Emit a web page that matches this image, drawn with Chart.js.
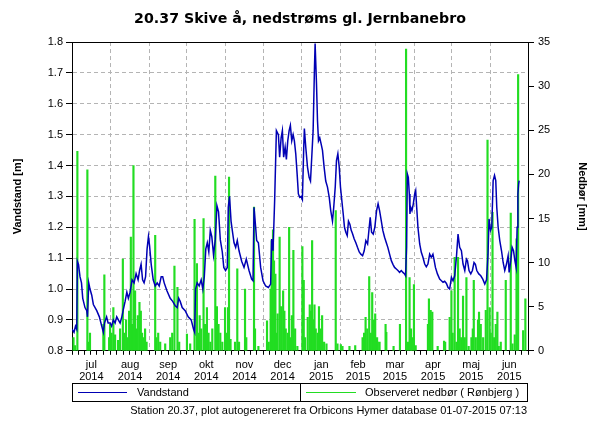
<!DOCTYPE html>
<html>
<head>
<meta charset="utf-8">
<script src="https://cdn.jsdelivr.net/npm/chart.js@4.4.1/dist/chart.umd.min.js"></script>
<style>
  html, body { margin: 0; padding: 0; background: #fff; }
  #wrap { width: 600px; height: 425px; }
</style>
</head>
<body>
<div id="wrap"><canvas id="myChart"></canvas></div>
<script>
// days counted from 1 jul 2014
var monthStarts = [0, 31, 62, 92, 123, 153, 184, 215, 243, 274, 304, 335, 365];
var monthNames = ['jul', 'aug', 'sep', 'okt', 'nov', 'dec', 'jan', 'feb', 'mar', 'apr', 'maj', 'jun'];
var monthYears = ['2014', '2014', '2014', '2014', '2014', '2014', '2015', '2015', '2015', '2015', '2015', '2015'];

// Vandstand [m]
var levelDays = [0, 1.6, 2.8, 3.8, 4.3, 5.2, 6.4, 7.6, 8.6, 10.4, 11.8, 12.4, 13.4, 14.4, 15.8, 17.1, 19.8, 21.9, 23.8, 25.1,
  26, 27.7, 28.9, 30.5, 31.7, 33.1, 34.5, 35.8, 37.1, 38.5, 39.9, 40.9, 42.5, 43.9, 45.1, 46.5, 48.1, 49.7, 51.3, 52.9,
  54.1, 55.3, 56.5, 57.7, 58.9, 60.1, 61.2, 62.1, 63.4, 65, 66.6, 68.2, 69.8, 71.4, 72.6, 73.8, 75.9, 78.6, 80.6, 82.6,
  84.2, 85.4, 86.6, 88.2, 90.6, 93, 95.4, 97.3, 98.2, 98.9, 100.2, 101.8, 103.4, 104.7, 105.9, 107.1, 108.3, 109.5, 110.7, 111.9,
  113.3, 114.7, 116, 117.3, 118.7, 120.3, 121.5, 122.9, 124.3, 125.1, 126.1, 127.3, 128.3, 129.7, 131, 132.3, 133.7, 135.8, 137.7, 139.5,
  141.7, 143.8, 144.9, 145.7, 147, 147.8, 149.2, 151, 152.9, 155, 157.2, 159, 159.8, 160.9, 162.2, 163.6, 165.2, 166.2, 167.4, 168.4,
  169.4, 170.6, 171.6, 172.7, 173.8, 174.8, 175.9, 177, 178, 179.1, 180.2, 181.2, 182.3, 183.4, 184.4, 185.5, 186, 187.1, 188.5, 189.8,
  190.9, 191.9, 193, 194.1, 194.6, 195.7, 196.5, 197.3, 198.3, 199.4, 200.5, 201.8, 203.1, 204.5, 205.9, 207.1, 208.5, 209.5, 210.7, 211.7,
  212.8, 213.9, 214.9, 216, 217.1, 218.1, 219.2, 220.3, 221.3, 222.4, 223.5, 224.5, 225.9, 227.2, 228.5, 229.9, 231.2, 232.6, 233.9, 235.2,
  236.6, 237.9, 238.7, 239.8, 241.1, 242.4, 243.8, 245, 246.2, 247.6, 248.8, 250.2, 251.6, 252.8, 254.2, 255.6, 256.9, 258.2, 259.6, 260.9,
  262.2, 263.6, 264.9, 266.2, 267, 267.8, 268.4, 269.2, 270, 270.5, 271.1, 272.1, 273.2, 274.3, 275.1, 275.9, 276.9, 278.3, 279.6, 280.9,
  282.3, 283.6, 284.9, 286.3, 287.6, 288.9, 289.7, 290.9, 292.5, 294.3, 295.7, 297, 298.3, 299.7, 301, 302.3, 303.7, 305, 306.3, 307.7,
  309, 310.3, 311.7, 313, 314.4, 315.7, 316.5, 317.8, 319.2, 320.5, 321.8, 322.9, 324, 325.6, 327.2, 328.8, 330.4, 331.8, 333, 333.8,
  335, 336, 337.1, 338.2, 339.2, 340, 341.1, 342.4, 343.8, 345.1, 346.4, 347.8, 349.1, 349.9, 351.2, 352.3, 353.4, 354.5, 355.5, 356.3,
  356.9, 357.5, 357.9];
var levelValues = [0.87, 0.86, 0.88, 0.87, 1.09, 1.08, 1.04, 1.02, 0.97, 0.94, 0.93, 0.91, 1.02, 1.00, 0.98, 0.95, 0.93, 0.91, 0.88, 0.86,
  0.89, 0.91, 0.89, 0.89, 0.88, 0.90, 0.89, 0.91, 0.90, 0.89, 0.91, 0.93, 0.96, 0.99, 0.97, 0.99, 1.03, 1.02, 1.05, 1.03,
  1.06, 1.08, 1.03, 1.02, 1.04, 1.13, 1.17, 1.14, 1.08, 1.03, 1.01, 1.02, 1.01, 1.04, 1.04, 1.02, 0.995, 0.97, 0.96, 0.946,
  0.94, 0.97, 0.96, 0.94, 0.93, 0.91, 0.90, 0.87, 0.86, 1.00, 1.02, 1.01, 1.03, 1.00, 1.04, 1.13, 1.15, 1.12, 1.19, 1.17,
  1.11, 1.16, 1.27, 1.25, 1.16, 1.12, 1.07, 1.06, 1.07, 1.265, 1.30, 1.22, 1.19, 1.15, 1.135, 1.157, 1.124, 1.09, 1.07, 1.097,
  1.06, 1.032, 1.027, 1.265, 1.20, 1.157, 1.15, 1.07, 1.027, 1.01, 1.005, 1.016, 1.162, 1.124, 1.286, 1.513, 1.50, 1.427, 1.49, 1.513,
  1.427, 1.46, 1.42, 1.48, 1.513, 1.53, 1.48, 1.50, 1.48, 1.438, 1.373, 1.308, 1.297, 1.30, 1.29, 1.46, 1.52, 1.46, 1.395, 1.362,
  1.35, 1.427, 1.513, 1.72, 1.795, 1.665, 1.546, 1.48, 1.49, 1.47, 1.449, 1.395, 1.35, 1.33, 1.297, 1.254, 1.22, 1.265, 1.33, 1.416,
  1.438, 1.395, 1.33, 1.286, 1.243, 1.20, 1.184, 1.173, 1.22, 1.21, 1.19, 1.18, 1.162, 1.15, 1.135, 1.12, 1.113, 1.108, 1.124, 1.157,
  1.146, 1.20, 1.232, 1.184, 1.178, 1.20, 1.254, 1.276, 1.254, 1.22, 1.19, 1.168, 1.15, 1.135, 1.113, 1.092, 1.08, 1.07, 1.065, 1.06,
  1.054, 1.06, 1.054, 1.049, 1.043, 1.135, 1.373, 1.362, 1.308, 1.243, 1.265, 1.254, 1.276, 1.308, 1.319, 1.265, 1.20, 1.146, 1.119, 1.103,
  1.081, 1.072, 1.081, 1.113, 1.103, 1.113, 1.097, 1.07, 1.049, 1.032, 1.027, 1.022, 1.025, 1.018, 1.005, 1.00, 1.038, 1.027, 1.043, 1.103,
  1.178, 1.135, 1.124, 1.081, 1.06, 1.097, 1.092, 1.06, 1.049, 1.06, 1.086, 1.08, 1.06, 1.049, 1.043, 1.032, 1.016, 1.03, 1.113, 1.227,
  1.19, 1.20, 1.351, 1.368, 1.351, 1.265, 1.20, 1.157, 1.124, 1.086, 1.06, 1.081, 1.108, 1.054, 1.092, 1.135, 1.124, 1.092, 1.07, 1.20,
  1.308, 1.34, 1.351];

// Observeret nedbør [mm]
var rainDays = [1.2, 2.4, 4.3, 12.3, 13.2, 14.4, 25.1, 25.9, 29.7, 30.5, 31.7, 33.1, 34.5, 36.9, 38.5, 40.7, 41.7, 43.3, 44.3, 45.7,
  47.1, 48.1, 49.2, 50.5, 51.6, 52.7, 54, 55.1, 56.1, 57.3, 58.5, 59.7, 66.6, 67.6, 69, 70.6, 74.6, 78.6, 80.2, 82,
  84.4, 85.8, 92, 94.6, 98.1, 100, 101, 102.2, 103.4, 105.3, 106.4, 108, 109.3, 110.7, 112.3, 114.7, 116, 117.3, 118.7, 120.3,
  122.5, 123.5, 124.9, 125.7, 126.9, 130.5, 132.3, 133.7, 138.5, 139.5, 145.7, 146.5, 149.2, 156.1, 157.5, 159, 159.8, 160.9, 161.7, 162.8,
  163.8, 164.6, 166.2, 167.4, 169, 170, 171.1, 172.7, 173.8, 175.1, 176, 177.2, 178.6, 180.4, 184.4, 185.5, 186.6, 188.7, 190.3, 191.4,
  192.2, 193.3, 194.1, 195.1, 196.7, 197.7, 198.9, 200.2, 201.8, 203.7, 211.1, 212.5, 215.2, 216.5, 222.1, 226.7, 232.6, 233.8, 235, 236.3,
  237.9, 239.2, 240.3, 241.6, 242.7, 244.2, 244.8, 246.2, 251, 251.6, 257.4, 262.5, 267.4, 268.9, 270.2, 271.4, 272.3, 273.7, 275.1, 284.9,
  285.7, 287.1, 288.4, 292.7, 297.8, 298.7, 302.3, 303.7, 304.7, 306.3, 307.7, 309, 310.3, 311.5, 313, 314.4, 315.7, 317.5, 319.7, 320.8,
  321.6, 323.2, 325, 325.8, 327.2, 329.1, 331.2, 332.6, 334.3, 335.2, 336.6, 337.9, 339.2, 340.5, 341.6, 343.2, 347.2, 351.2, 352.6, 354.4,
  355.8, 357.1, 361.1, 362.9];
var rainValues = [1.5, 0.6, 22.6, 20.5, 1.0, 2.0, 3.0, 8.6, 1.5, 3.0, 2.0, 4.9, 1.8, 1.2, 2.5, 10.4, 2.0, 3.5, 1.5, 4.5,
  12.9, 3.0, 21.0, 6.8, 2.5, 4.0, 5.5, 4.5, 2.0, 1.5, 2.5, 1.0, 13.1, 1.5, 2.0, 1.0, 0.8, 1.5, 2.0, 9.6,
  7.2, 1.0, 1.9, 0.8, 14.9, 9.9, 2.0, 4.0, 2.5, 15.0, 3.0, 4.9, 2.0, 1.0, 2.5, 19.8, 5.0, 3.0, 2.0, 1.0,
  4.9, 2.0, 4.9, 19.7, 1.3, 1.0, 9.3, 1.0, 7.0, 1.5, 16.3, 2.5, 0.5, 3.4, 1.0, 7.0, 12.5, 13.7, 10.2, 8.7,
  2.0, 4.2, 12.9, 5.0, 6.8, 4.5, 2.5, 2.0, 14.0, 1.5, 4.0, 11.4, 2.5, 0.5, 11.8, 8.0, 1.5, 3.8, 5.2, 4.5,
  12.5, 3.5, 5.2, 2.5, 2.0, 5.0, 2.5, 4.0, 1.0, 0.8, 15.9, 0.8, 0.7, 0.5, 0.5, 0.6, 1.5, 2.0, 3.8, 2.5,
  8.4, 2.0, 6.6, 3.5, 4.2, 1.5, 1.0, 1.0, 3.0, 2.1, 0.5, 3.0, 34.2, 1.0, 8.3, 2.5, 1.5, 7.5, 0.6, 3.0,
  5.9, 4.6, 4.4, 0.5, 1.1, 1.0, 3.8, 6.8, 2.0, 10.6, 1.0, 10.6, 2.5, 1.5, 6.2, 1.5, 8.3, 0.5, 1.5, 2.5,
  8.0, 1.5, 3.5, 4.4, 3.0, 1.5, 4.6, 23.9, 4.9, 2.0, 15.7, 1.5, 3.0, 4.4, 0.5, 1.0, 8.0, 15.6, 0.8, 1.8,
  12.7, 31.3, 2.3, 5.9];

var levelData = levelDays.map(function (d, i) { return { x: d, y: levelValues[i] }; });
var rainData = rainDays.map(function (d, i) { return { x: d, y: rainValues[i] }; });

// small ticks every 5 days inside each month
var xTicks = [];
monthStarts.forEach(function (s, i) {
  xTicks.push(s);
  if (i < monthStarts.length - 1) {
    [5, 10, 15, 20, 25].forEach(function (k) { xTicks.push(s + k); });
  }
});
var monthMids = monthNames.map(function (m, i) { return (monthStarts[i] + monthStarts[i + 1]) / 2; });

Chart.defaults.font.family = "'Liberation Sans', Arial, sans-serif";
Chart.defaults.font.size = 11;
Chart.defaults.color = '#000';

var gridGray = '#b4b4b4';

var boxPlugin = {
  id: 'boxPlugin',
  afterDraw: function (chart) {
    var c = chart.ctx;
    var a = chart.chartArea;
    c.save();
    c.strokeStyle = '#000';
    c.lineWidth = 1;
    c.beginPath();
    c.moveTo(a.left, Math.round(a.top) + 0.5);
    c.lineTo(a.right, Math.round(a.top) + 0.5);
    c.stroke();

    // legend box
    c.strokeRect(72.5, 383.5, 455, 18);
    c.beginPath();
    c.moveTo(300.5, 383.5);
    c.lineTo(300.5, 401.5);
    c.stroke();
    c.strokeStyle = '#0000b4';
    c.beginPath();
    c.moveTo(78, 392.5);
    c.lineTo(127, 392.5);
    c.stroke();
    c.strokeStyle = '#22dd22';
    c.beginPath();
    c.moveTo(306, 392.5);
    c.lineTo(356, 392.5);
    c.stroke();
    c.fillStyle = '#000';
    c.font = "11px 'Liberation Sans', Arial, sans-serif";
    c.textBaseline = 'middle';
    c.textAlign = 'left';
    c.fillText('Vandstand', 137, 393);
    c.fillText('Observeret nedbør ( Rønbjerg )', 365, 393);
    c.textAlign = 'right';
    c.fillText('Station 20.37, plot autogenereret fra Orbicons Hymer database 01-07-2015 07:13', 527, 411);
    c.restore();
  }
};

new Chart('myChart', {
  type: 'line',
  data: {
    datasets: [{
      type: 'line',
      label: 'Vandstand',
      data: levelData,
      xAxisID: 'x',
      yAxisID: 'y',
      borderColor: '#0000b4',
      borderWidth: 1.5,
      pointRadius: 0,
      tension: 0,
      order: 1
    }, {
      type: 'bar',
      label: 'Observeret nedbør ( Rønbjerg )',
      data: rainData,
      xAxisID: 'x',
      yAxisID: 'y2',
      backgroundColor: '#22dd22',
      barThickness: 1.5,
      order: 2
    }]
  },
  options: {
    responsive: true,
    maintainAspectRatio: false,
    animation: false,
    layout: { padding: { bottom: 38 } },
    plugins: {
      legend: { display: false },
      tooltip: { enabled: false },
      title: {
        display: true,
        text: '20.37 Skive å, nedstrøms gl. Jernbanebro',
        font: { family: "'DejaVu Sans', Verdana, sans-serif", size: 14.2, weight: 'bold' },
        color: '#000',
        padding: { top: 11, bottom: 14 }
      }
    },
    scales: {
      x: {
        type: 'linear',
        position: 'bottom',
        weight: 0,
        min: 0,
        max: 365,
        offset: false,
        afterBuildTicks: function (axis) {
          axis.ticks = xTicks.map(function (v) { return { value: v }; });
        },
        ticks: { display: false },
        grid: {
          offset: false,
          color: function (ctx) {
            return ctx.tick && monthStarts.indexOf(ctx.tick.value) >= 0 ? gridGray : 'rgba(0,0,0,0)';
          },
          tickColor: '#000',
          tickLength: 4
        },
        border: { color: '#000', dash: [4, 3] }
      },
      xLabels: {
        type: 'linear',
        position: 'bottom',
        weight: 1,
        min: 0,
        max: 365,
        afterBuildTicks: function (axis) {
          axis.ticks = monthMids.map(function (v) { return { value: v }; });
        },
        ticks: {
          autoSkip: false,
          maxRotation: 0,
          padding: 4,
          font: { size: 11, lineHeight: 1.1 },
          callback: function (v, i) { return [monthNames[i], monthYears[i]]; }
        },
        grid: { display: false, drawTicks: false },
        border: { display: false }
      },
      y: {
        position: 'left',
        min: 0.8,
        max: 1.8,
        afterFit: function (scale) { scale.width = 72; },
        ticks: {
          stepSize: 0.1,
          padding: 3,
          callback: function (v) { return v.toFixed(1); }
        },
        grid: { color: gridGray, tickColor: '#000', tickLength: 6 },
        border: { color: '#000', dash: [4, 3] },
        title: {
          display: true,
          text: 'Vandstand [m]',
          font: { size: 11, weight: 'bold' },
          padding: { top: 11, bottom: 0 }
        }
      },
      y2: {
        position: 'right',
        min: 0,
        max: 35,
        afterFit: function (scale) { scale.width = 72; },
        ticks: { stepSize: 5, padding: 4 },
        grid: { drawOnChartArea: false, tickColor: '#000', tickLength: 6 },
        border: { color: '#000' },
        title: {
          display: true,
          text: 'Nedbør [mm]',
          font: { size: 11, weight: 'bold' },
          padding: { top: 11, bottom: 0 }
        }
      }
    }
  },
  plugins: [boxPlugin]
});
</script>
</body>
</html>
